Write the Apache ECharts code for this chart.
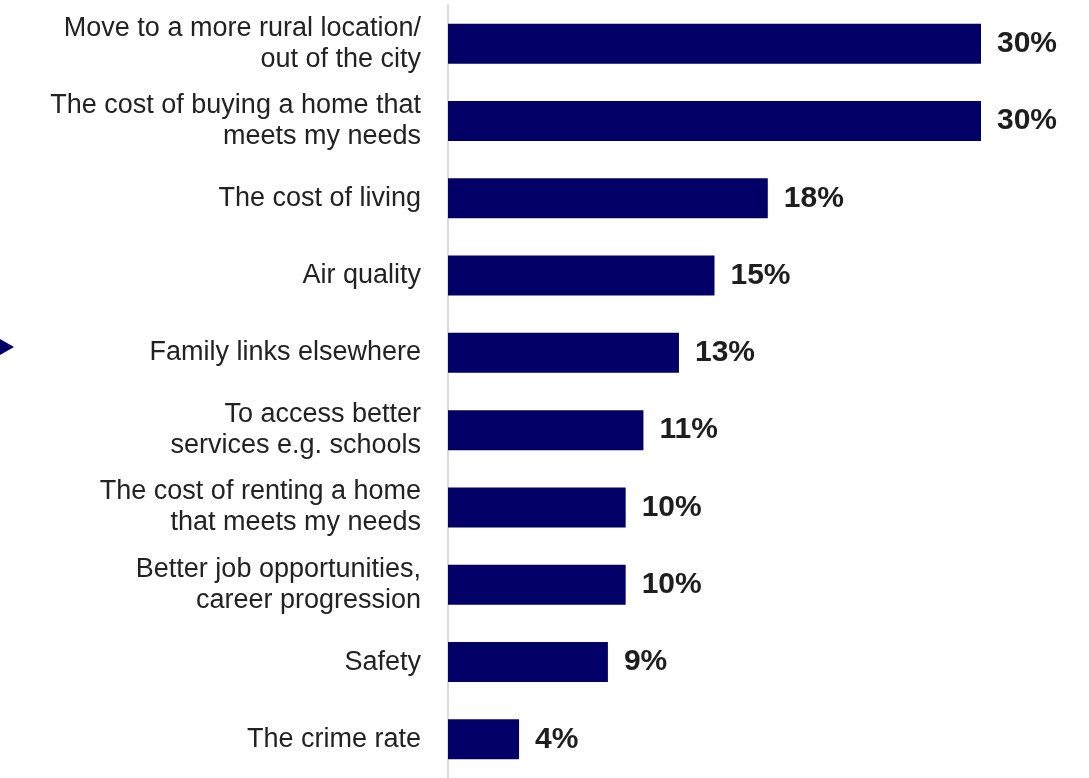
<!DOCTYPE html>
<html>
<head>
<meta charset="utf-8">
<script src="https://cdn.jsdelivr.net/npm/echarts@6/dist/echarts.min.js"></script>
<style>
  html, body { margin: 0; padding: 0; background: #ffffff; }
  #chart { width: 1089px; height: 778px; }
</style>
</head>
<body>
<div id="chart"></div>
<script>
// Reasons for moving, share of respondents (%)
const categories = [
  'Move to a more rural location/\nout of the city',
  'The cost of buying a home that\nmeets my needs',
  'The cost of living',
  'Air quality',
  'Family links elsewhere',
  'To access better\nservices e.g. schools',
  'The cost of renting a home\nthat meets my needs',
  'Better job opportunities,\ncareer progression',
  'Safety',
  'The crime rate'
];
const values = [30, 30, 18, 15, 13, 11, 10, 10, 9, 4];

const navy = '#020066';
const chart = echarts.init(document.getElementById('chart'), null, { renderer: 'canvas' });

chart.setOption({
  animation: false,
  backgroundColor: '#ffffff',
  grid: { left: 448, right: 108, top: 5, height: 778, containLabel: false },
  xAxis: {
    type: 'value', min: 0, max: 30,
    show: false
  },
  yAxis: {
    type: 'category',
    inverse: true,
    data: categories,
    axisTick: { show: false },
    axisLine: { show: true, lineStyle: { color: '#dcdcdc', width: 2 } },
    axisLabel: {
      margin: 27,
      color: '#222222',
      fontFamily: 'Liberation Sans, Arial, sans-serif',
      fontSize: 27,
      lineHeight: 31,
      align: 'right'
    },
    splitLine: { show: false }
  },
  series: [{
    type: 'bar',
    data: values,
    barWidth: 40,
    itemStyle: { color: navy },
    label: {
      show: true,
      position: 'right',
      distance: 16,
      formatter: p => p.value + '%',
      color: '#1e1e1e',
      fontFamily: 'Liberation Sans, Arial, sans-serif',
      fontWeight: 'bold',
      fontSize: 30
    }
  }],
  graphic: [{
    type: 'polygon',
    left: 0,
    top: 339,
    shape: { points: [[0, 0], [14, 8], [0, 16]] },
    style: { fill: navy }
  }]
});
</script>
</body>
</html>
